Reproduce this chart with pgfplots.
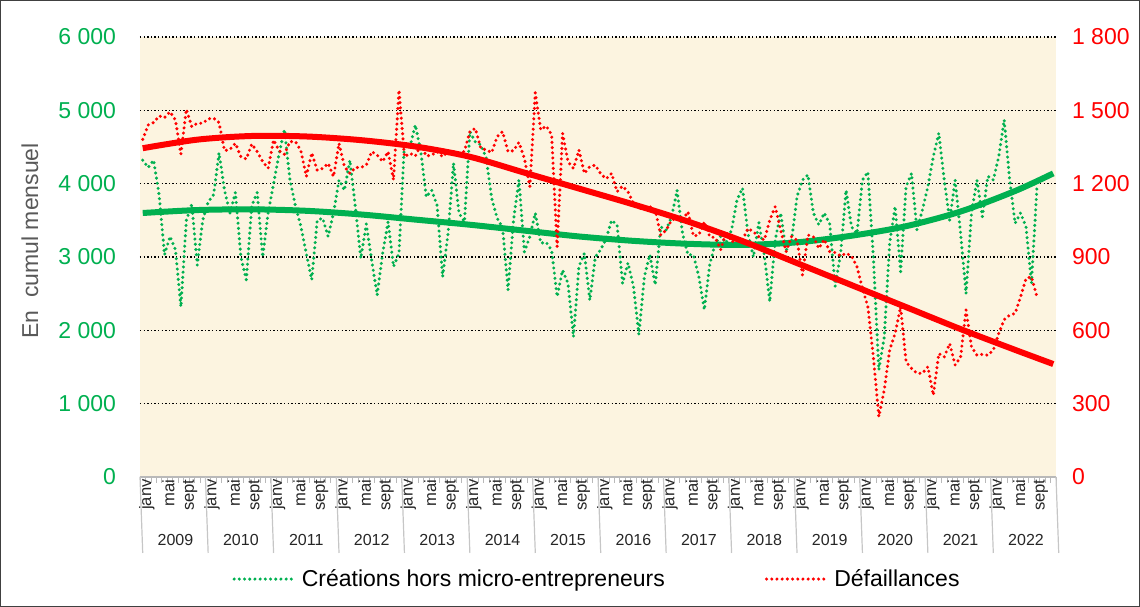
\documentclass[border=0pt]{standalone}
\usepackage{fontspec}
\setmainfont{Liberation Sans}
\usepackage{pgfplots}
\usepackage{pgfplotstable}
\pgfplotsset{compat=1.18}
\usetikzlibrary{calc}
\definecolor{cgreen}{RGB}{0,176,80}
\definecolor{cred}{RGB}{255,0,0}
\definecolor{bg}{RGB}{252,244,224}
\definecolor{labgray}{RGB}{89,89,89}
\newcommand{\tickfont}{\fontsize{11.5}{13}\selectfont}
\newcommand{\smallfont}{\fontsize{8.3}{9.5}\selectfont}
\newcommand{\yearfont}{\fontsize{8}{9.5}\selectfont}

\pgfplotstableread{
i cre def
0 4320 1381
1 4220 1440
2 4320 1450
3 3850 1477
4 3030 1470
5 3280 1494
6 3100 1460
7 2320 1321
8 3500 1504
9 3720 1433
10 2890 1447
11 3500 1447
12 3750 1465
13 3850 1468
14 4420 1450
15 3910 1335
16 3600 1340
17 3880 1365
18 3000 1310
19 2690 1301
20 3700 1362
21 3880 1331
22 3000 1290
23 3600 1263
24 4000 1379
25 4400 1335
26 4740 1320
27 4050 1372
28 3700 1372
29 3420 1335
30 3050 1229
31 2690 1326
32 3500 1255
33 3530 1262
34 3280 1283
35 3600 1229
36 4050 1365
37 3910 1270
38 4320 1242
39 3680 1266
40 2980 1266
41 3450 1276
42 2950 1331
43 2480 1317
44 3050 1290
45 3480 1331
46 2870 1215
47 3050 1583
48 4550 1310
49 4500 1324
50 4800 1313
51 4440 1358
52 3820 1313
53 3910 1317
54 3700 1331
55 2730 1310
56 3320 1331
57 4280 1331
58 3600 1320
59 3480 1333
60 4710 1413
61 4570 1426
62 4530 1345
63 4350 1338
64 3800 1327
65 3530 1392
66 3400 1413
67 2550 1331
68 3500 1335
69 4050 1369
70 3070 1304
71 3280 1188
72 3600 1572
73 3190 1420
74 3200 1436
75 3090 1400
76 2460 942
77 2820 1406
78 2640 1290
79 1910 1262
80 2870 1338
81 3050 1242
82 2410 1270
83 3000 1276
84 3100 1240
85 3250 1220
86 3500 1242
87 3440 1167
88 2640 1190
89 2920 1167
90 2600 1120
91 1940 1099
92 2730 1099
93 3030 1106
94 2620 1092
95 3410 990
96 3370 1010
97 3550 1051
98 3910 1058
99 3320 1051
100 3030 1085
101 3030 986
102 2730 990
103 2280 1044
104 2900 983
105 3190 979
106 3280 930
107 3190 1003
108 3370 962
109 3780 969
110 3940 969
111 3320 1017
112 3000 1003
113 3470 983
114 3030 969
115 2390 1051
116 3230 1106
117 3600 1010
118 3090 922
119 3230 983
120 3820 969
121 4050 826
122 4120 990
123 3600 983
124 3440 935
125 3600 972
126 3450 922
127 2600 918
128 3050 904
129 3910 915
130 3410 904
131 3320 860
132 4050 771
133 4160 696
134 3000 491
135 1460 247
136 1910 356
137 3200 520
138 3690 588
139 2800 696
140 3960 471
141 4140 444
142 3370 424
143 3640 424
144 3960 451
145 4370 335
146 4690 505
147 4050 491
148 3500 546
149 4050 458
150 3320 491
151 2500 683
152 3600 532
153 4050 498
154 3550 502
155 4100 498
156 4050 519
157 4370 587
158 4870 644
159 4050 662
160 3460 669
161 3600 737
162 3410 812
163 2640 819
164 3950 738
}\data

\pgfplotstableread{
i tcre tdef
0 3600 1345
10 3640 1380
20 3650 1395
30 3630 1393
40 3580 1378
50 3510 1352
60 3440 1310
70 3360 1245
80 3280 1180
90 3220 1115
100 3180 1045
110 3165 965
120 3200 875
130 3290 785
140 3420 695
150 3620 605
160 3900 520
167 4140 462
}\trend

\tikzset{
  greendots/.style={cgreen, line width=1.7pt, line cap=round, dash pattern=on 0pt off 2.6pt},
  reddots/.style={cred, line width=1.7pt, line cap=round, dash pattern=on 0pt off 2.6pt},
}

\begin{document}
\begin{tikzpicture}
\begin{axis}[
  name=ax,
  scale only axis, width=458pt, height=220pt,
  xmin=-0.5, xmax=167.5, ymin=0, ymax=6000,
  clip=false,
  axis background/.style={fill=bg},
  axis x line*=bottom, axis y line*=left,
  y axis line style={draw=none},
  x axis line style={draw=gray!55, line width=0.6pt, -},
  ytick={0,1000,...,6000},
  yticklabels={0,1 000,2 000,3 000,4 000,5 000,6 000},
  yticklabel style={font=\tickfont, text=cgreen, xshift=-5.5pt},
  ytick style={draw=none},
  ymajorgrids,
  major grid style={black, line width=0.8pt, dash pattern=on 0.7pt off 1.1pt},
  xtick={-0.5,0.5,...,167.5},
  xticklabels={},
  tick align=outside,
  xtick style={gray!55, line width=0.4pt},
  major tick length=3pt,
  extra x ticks={0,4,...,164},
  extra x tick labels={janv,mai,sept,janv,mai,sept,janv,mai,sept,janv,mai,sept,janv,mai,sept,janv,mai,sept,janv,mai,sept,janv,mai,sept,janv,mai,sept,janv,mai,sept,janv,mai,sept,janv,mai,sept,janv,mai,sept,janv,mai,sept},
  extra x tick style={major tick length=0pt, tick label style={rotate=90, anchor=east, font=\smallfont, text=black!85, inner sep=1pt, yshift=-2pt}},
  legend style={at={(0.5,-0.232)}, anchor=center, draw=none, fill=none, font=\tickfont,
    /tikz/every even column/.append style={column sep=48pt}},
  legend columns=2,
  legend cell align=left,
  legend image code/.code={\draw[#1] (0pt,0pt) -- (31pt,0pt);},
]
\addplot[greendots] table[x=i,y=cre]{\data};
\addlegendentry{Créations hors micro-entrepreneurs}
\addlegendimage{reddots}
\addlegendentry{Défaillances}
\addplot[cgreen, line width=3pt, smooth, forget plot] table[x=i,y=tcre]{\trend};
\pgfplotsinvokeforeach{0,...,14}{
  \draw[gray!45, line width=0.6pt] (axis cs:{-0.5+12*#1},0) -- ++(0,-38pt);
}
\pgfplotsinvokeforeach{0,...,13}{
  \node[font=\yearfont, text=black!85] at ($(axis cs:{5.5+12*#1},0)+(0,-31.5pt)$) {\the\numexpr2009+#1\relax};
}
\end{axis}
\begin{axis}[
  scale only axis, width=458pt, height=220pt,
  xmin=-0.5, xmax=167.5, ymin=0, ymax=1800,
  axis y line*=right, axis x line=none,
  y axis line style={draw=none},
  ytick={0,300,...,1800},
  yticklabels={0,300,600,900,1 200,1 500,1 800},
  yticklabel style={font=\tickfont, text=cred, xshift=4.5pt},
  ytick style={draw=none},
]
\addplot[reddots] table[x=i,y=def]{\data};
\addplot[cred, line width=3pt, smooth] table[x=i,y=tdef]{\trend};
\end{axis}
\node[rotate=90, font=\tickfont, text=labgray] at ($(ax.south west)+(-55pt,118pt)$) {En\ \ cumul mensuel};
\draw[black!75, line width=0.6pt] ($(ax.south west)+(-69.7pt,-64.7pt)$) rectangle ($(ax.north east)+(41.7pt,18.2pt)$);
\end{tikzpicture}
\end{document}
